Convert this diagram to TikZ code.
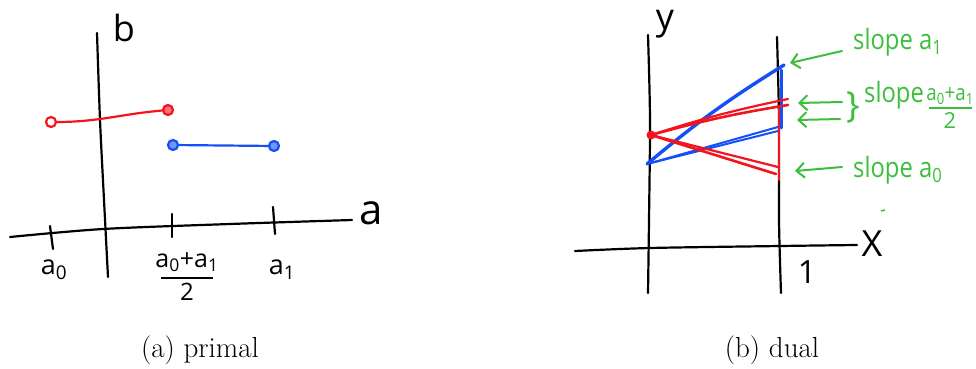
\documentclass[tikz,border=0pt]{standalone}
\usepackage{fontspec}
\usepackage{graphicx}
\newfontfamily\hand{Open Sans}
\usetikzlibrary{arrows.meta}
\definecolor{pred}{RGB}{245,20,30}
\definecolor{pblue}{RGB}{20,80,245}
\definecolor{pgreen}{RGB}{60,190,60}
\newcommand{\cond}[1]{\scalebox{0.85}[1]{#1}}
\tikzset{
  axis/.style={line width=2.2pt, black, line cap=round},
  seg/.style={line width=2.2pt, line cap=round},
  dot/.style={circle, draw, line width=2.2pt, minimum size=10pt, inner sep=0pt},
  hlab/.style={font=\hand\fontsize{27}{29}\selectfont, inner sep=0pt},
  glab/.style={font=\hand\fontsize{28}{30}\selectfont, text=pgreen, inner sep=0pt, anchor=west},
  garrow/.style={line width=2pt, pgreen, -{Straight Barb[length=8pt,width=15pt,line width=2pt]}, line cap=round},
  capstyle/.style={font=\fontsize{29}{34}\selectfont, inner sep=0pt}
}
\begin{document}
\begin{tikzpicture}[x=1pt,y=-1pt]
\useasboundingbox (0,0) rectangle (976,369);
% ---------- primal ----------
\draw[axis] plot[smooth] coordinates {(10,237) (103,229) (230,224) (352,220)};
\draw[axis] plot[smooth] coordinates {(97,33) (100,120) (104,200) (108,277)};
\node[hlab, font=\hand\fontsize{42}{44}\selectfont] (alab) at (371,213) {a};
\node[hlab, font=\hand\fontsize{36}{38}\selectfont] (blab) at (124,28) {b};
\coordinate (t0a) at (50,226); \coordinate (t0b) at (53,249);
\coordinate (t1a) at (172,214); \coordinate (t1b) at (172,237);
\coordinate (t2a) at (273,207); \coordinate (t2b) at (275,234);
\draw[axis] (t0a) -- (t0b);
\draw[axis] (t1a) -- (t1b);
\draw[axis] (t2a) -- (t2b);
\node[hlab] (la0) at (54,270) {a\textsubscript{0}};
\node[hlab, font=\hand\fontsize{25}{27}\selectfont] (lnum) at (187,262) {a\textsubscript{0}+a\textsubscript{1}};
\coordinate (fb0) at (161,278); \coordinate (fb1) at (213,278);
\draw[line width=2pt] (fb0) -- (fb1);
\node[hlab, font=\hand\fontsize{24}{26}\selectfont] (lden) at (187,292) {2};
\node[hlab] (la1) at (282,270) {a\textsubscript{1}};
% red and blue segments
\node[dot, draw=pred] (r0) at (51,122) {};
\node[dot, draw=pred, fill=pred!60] (r1) at (168,110) {};
\draw[seg, pred] (r0) to[out=0,in=185] (r1);
\node[dot, draw=pblue, fill=pblue!60] (b0) at (173,145) {};
\node[dot, draw=pblue, fill=pblue!60] (b1) at (274,146) {};
\draw[seg, pblue] (b0) -- (b1);
\node[capstyle] (capa) at (200,350) {(a) primal};
% ---------- dual ----------
\draw[axis] plot[smooth] coordinates {(575,251) (650,248) (780,246) (857,245)};
\draw[axis] plot[smooth] coordinates {(648,35) (650,120) (649,220) (648,293)};
\draw[axis] plot[smooth] coordinates {(777,37) (779,120) (779,220) (781,293)};
\node[hlab, font=\hand\fontsize{36}{38}\selectfont] (ylab) at (665,24) {y};
\node[hlab, font=\hand\fontsize{36}{38}\selectfont] (xlab) at (872,244) {X};
\node[hlab, font=\hand\fontsize{32}{34}\selectfont] (onelab) at (807,272) {1};
% lines
\coordinate (L) at (647,164);
\coordinate (R) at (651,135);
\coordinate (Bt) at (784,65);
\coordinate (Bm1) at (778,127);
\coordinate (Bm2) at (778,131);
\coordinate (Rt1) at (788,99);
\coordinate (Rt2) at (788,105);
\coordinate (Rb1) at (778,167);
\coordinate (Rb2) at (776,174);
\coordinate (Bv0) at (781,70); \coordinate (Bv1) at (781,128);
\coordinate (Rv0) at (779,107); \coordinate (Rv1) at (779,180);
\draw[seg, pblue, line width=3.4pt] (L) to[bend left=4] (Bt);
\draw[seg, pblue, line width=2pt] (L) -- (Bm1);
\draw[seg, pblue, line width=2pt] (L) -- (Bm2);
\draw[seg, pblue, line width=3pt] (Bv0) -- (Bv1);
\draw[seg, pred, line width=2.2pt] (R) to[bend left=3] (Rt1);
\draw[seg, pred, line width=2.6pt] (R) to[bend left=3] (Rt2);
\draw[seg, pred, line width=2.2pt] (R) -- (Rb1);
\draw[seg, pred, line width=2.6pt] (R) -- (Rb2);
\draw[seg, pred, line width=2.6pt] (Rv0) -- (Rv1);
\fill[pred] (R) circle (4.5pt);
% green annotations
\coordinate (g1s) at (842,51); \coordinate (g1e) at (790,63);
\coordinate (g2s) at (842,102); \coordinate (g2e) at (798,103);
\coordinate (g3s) at (840,119); \coordinate (g3e) at (797,120);
\coordinate (g4s) at (842,167); \coordinate (g4e) at (795,171);
\draw[garrow] (g1s) -- (g1e);
\draw[garrow] (g2s) -- (g2e);
\draw[garrow] (g3s) -- (g3e);
\draw[garrow] (g4s) -- (g4e);
\node[glab] (s1) at (853,42) {\cond{slope a\textsubscript{1}}};
\node[glab, font=\hand\fontsize{36}{38}\selectfont] (brace) at (846,107) {\}};
\node[glab] (s2) at (864,95) {\cond{slope}};
\node[glab, font=\hand\fontsize{22}{24}\selectfont, anchor=center] (s2num) at (950,96) {\cond{a\textsubscript{0}+a\textsubscript{1}}};
\coordinate (gb0) at (929,108); \coordinate (gb1) at (972,108);
\draw[pgreen, line width=1.8pt] (gb0) -- (gb1);
\node[glab, font=\hand\fontsize{22}{24}\selectfont, anchor=center] (s2den) at (950,121) {2};
\node[glab] (s3) at (853,170) {\cond{slope a\textsubscript{0}}};
\coordinate (sp0) at (881,211); \coordinate (sp1) at (885,210);
\draw[pgreen, line width=1.5pt] (sp0) -- (sp1);
\node[capstyle] (capb) at (772,350) {(b) dual};
\end{tikzpicture}
\end{document}
